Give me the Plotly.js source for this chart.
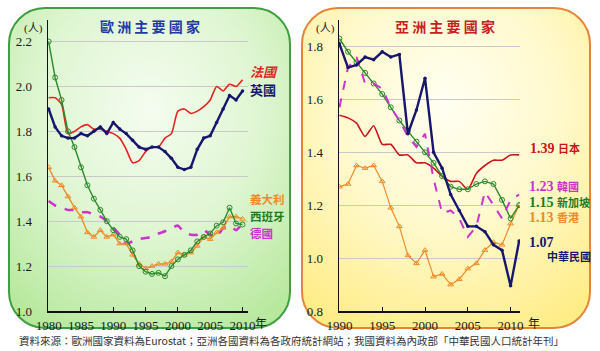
<!DOCTYPE html>
<html>
<head>
<meta charset="utf-8">
<script src="https://cdn.plot.ly/plotly-3.0.1.min.js"></script>
<style>
html,body{margin:0;padding:0;background:#fff;}
#chart{width:600px;height:351px;}
</style>
</head>
<body>
<div id="chart"></div>
<script>
// ---- Europe (1980-2010) ----
var yearsEU = [1980,1981,1982,1983,1984,1985,1986,1987,1988,1989,1990,1991,1992,1993,1994,1995,1996,1997,1998,1999,2000,2001,2002,2003,2004,2005,2006,2007,2008,2009,2010];
var france  = [1.95,1.95,1.92,1.79,1.80,1.82,1.83,1.81,1.81,1.80,1.79,1.77,1.72,1.66,1.67,1.71,1.73,1.73,1.77,1.79,1.89,1.90,1.88,1.89,1.91,1.94,2.00,1.98,2.01,2.00,2.03];
var uk      = [1.90,1.82,1.78,1.77,1.77,1.79,1.78,1.80,1.82,1.79,1.84,1.81,1.79,1.76,1.73,1.72,1.73,1.73,1.71,1.68,1.64,1.63,1.64,1.72,1.77,1.78,1.84,1.90,1.96,1.94,1.98];
var italy   = [1.64,1.58,1.56,1.51,1.46,1.42,1.35,1.33,1.36,1.33,1.34,1.30,1.30,1.25,1.21,1.19,1.20,1.21,1.21,1.22,1.26,1.25,1.26,1.29,1.33,1.32,1.35,1.37,1.42,1.42,1.41];
var spain   = [2.20,2.04,1.94,1.80,1.73,1.64,1.56,1.50,1.45,1.40,1.36,1.33,1.32,1.27,1.20,1.175,1.165,1.17,1.155,1.20,1.23,1.25,1.27,1.31,1.33,1.345,1.38,1.395,1.46,1.39,1.385];
var germany = [1.49,1.47,1.46,1.45,1.45,1.44,1.44,1.43,1.42,1.40,1.37,1.34,1.30,1.31,1.32,1.325,1.33,1.345,1.355,1.37,1.38,1.35,1.34,1.34,1.36,1.34,1.33,1.37,1.38,1.36,1.39];

// ---- Asia (1990-2011) ----
var yearsAS   = [1990,1991,1992,1993,1994,1995,1996,1997,1998,1999,2000,2001,2002,2003,2004,2005,2006,2007,2008,2009,2010,2011];
var japan     = [1.54,1.53,1.51,1.46,1.50,1.43,1.43,1.39,1.39,1.36,1.36,1.34,1.31,1.29,1.29,1.26,1.32,1.35,1.37,1.37,1.39,1.39];
var korea     = [1.57,1.72,1.76,1.66,1.66,1.64,1.57,1.52,1.46,1.42,1.47,1.30,1.17,1.18,1.15,1.08,1.12,1.25,1.20,1.15,1.22,1.24];
var singapore = [1.83,1.78,1.74,1.70,1.66,1.62,1.57,1.52,1.48,1.44,1.40,1.36,1.31,1.27,1.26,1.26,1.28,1.29,1.28,1.22,1.15,1.20];
var hongkong  = [1.27,1.28,1.35,1.34,1.35,1.29,1.19,1.12,1.01,0.98,1.03,0.93,0.94,0.90,0.92,0.96,0.98,1.03,1.06,1.05,1.13,1.20];
var taiwan    = [1.81,1.72,1.73,1.76,1.75,1.78,1.76,1.77,1.47,1.56,1.68,1.40,1.34,1.24,1.18,1.12,1.12,1.10,1.05,1.03,0.895,1.065];

var ticksEUx = [1980,1985,1990,1995,2000,2005,2010];
var ticksEUy = [1.0,1.2,1.4,1.6,1.8,2.0,2.2];
var ticksASx = [1990,1995,2000,2005,2010];
var ticksASy = [0.8,1.0,1.2,1.4,1.6,1.8];
function fmt(a){return a.map(function(v){return v.toFixed(1);});}

var C = {red:'#e0261e', navy:'#16166e', orange:'#f08a26', green:'#2b8a2b', magenta:'#cc33cc', jred:'#c8161a'};

var traces = [
  {x:yearsEU, y:france, mode:'lines', line:{color:C.red, width:1.6, shape:'spline', smoothing:0.6}, xaxis:'x', yaxis:'y'},
  {x:yearsEU, y:germany, mode:'lines', line:{color:C.magenta, width:2.6, dash:'dash', shape:'spline', smoothing:0.5}, xaxis:'x', yaxis:'y'},
  {x:yearsEU, y:italy, mode:'lines+markers', line:{color:C.orange, width:1.4}, marker:{symbol:'triangle-up-open', size:5, color:C.orange, line:{width:1}}, xaxis:'x', yaxis:'y'},
  {x:yearsEU, y:spain, mode:'lines+markers', line:{color:C.green, width:1.4}, marker:{symbol:'circle-open', size:5, color:C.green, line:{width:1}}, xaxis:'x', yaxis:'y'},
  {x:yearsEU, y:uk, mode:'lines+markers', line:{color:C.navy, width:2.4}, marker:{symbol:'circle', size:3.5, color:C.navy}, xaxis:'x', yaxis:'y'},

  {x:yearsAS, y:japan, mode:'lines', line:{color:C.jred, width:1.6, shape:'spline', smoothing:0.6}, xaxis:'x2', yaxis:'y2'},
  {x:yearsAS, y:hongkong, mode:'lines+markers', line:{color:C.orange, width:1.2}, marker:{symbol:'triangle-up-open', size:5, color:C.orange, line:{width:1}}, xaxis:'x2', yaxis:'y2'},
  {x:yearsAS, y:singapore, mode:'lines+markers', line:{color:C.green, width:1.4}, marker:{symbol:'circle-open', size:5, color:C.green, line:{width:1}}, xaxis:'x2', yaxis:'y2'},
  {x:yearsAS, y:korea, mode:'lines', line:{color:C.magenta, width:2, dash:'dash'}, xaxis:'x2', yaxis:'y2'},
  {x:yearsAS, y:taiwan, mode:'lines+markers', line:{color:C.navy, width:2.4}, marker:{symbol:'circle', size:3.5, color:C.navy}, xaxis:'x2', yaxis:'y2'}
];

var W = 600, H = 351;
function px(x){return x/W;}
function py(y){return 1 - y/H;}

var svg = "<svg xmlns='http://www.w3.org/2000/svg' width='600' height='351' viewBox='0 0 600 351'>" +
 "<defs>" +
 "<radialGradient id='g1' cx='0.5' cy='0.32' r='0.78'><stop offset='0' stop-color='#f5fcf0'/><stop offset='0.5' stop-color='#dff6d2'/><stop offset='1' stop-color='#b6e89c'/></radialGradient>" +
 "<radialGradient id='g2' cx='0.5' cy='0.3' r='0.78'><stop offset='0' stop-color='#fffff2'/><stop offset='0.5' stop-color='#fff9cc'/><stop offset='1' stop-color='#ffed88'/></radialGradient>" +
 "</defs>" +
 "<rect x='9' y='8' width='281' height='320' rx='36' ry='36' fill='url(#g1)' stroke='#3f9e3f' stroke-width='2'/>" +
 "<rect x='302' y='8' width='288' height='320' rx='36' ry='36' fill='url(#g2)' stroke='#e4853a' stroke-width='2'/>" +
 "</svg>";

var tickFont = {family:'Liberation Serif, Times New Roman, serif', size:13, color:'#1a1a1a'};
var cjk = 'Noto Sans CJK TC, Noto Sans CJK SC, sans-serif';
var serifcjk = 'Liberation Serif, Noto Sans CJK TC, serif';

function ann(x, y, text, font, anchor){
  return {xref:'paper', yref:'paper', x:px(x), y:py(y), text:text, showarrow:false,
          xanchor:anchor||'left', yanchor:'middle', font:font};
}

var annotations = [
  ann(150, 26, '<b>歐 洲 主 要 國 家</b>', {family:cjk, size:14, color:'#1f3aa6'}, 'center'),
  ann(445, 26, '<b>亞 洲 主 要 國 家</b>', {family:cjk, size:14, color:'#c8201c'}, 'center'),
  ann(33, 28, '(人)', {family:serifcjk, size:11, color:'#1a1a1a'}, 'center'),
  ann(325, 28, '(人)', {family:serifcjk, size:11, color:'#1a1a1a'}, 'center'),
  ann(253, 322, '年', {family:cjk, size:12, color:'#1a1a1a'}),
  ann(526, 322, '年', {family:cjk, size:12, color:'#1a1a1a'}),

  ann(248, 71, '<b><i>法國</i></b>', {family:cjk, size:13, color:C.red}),
  ann(248, 90, '<b>英國</b>', {family:cjk, size:13, color:C.navy}),
  ann(248, 199, '<b>義大利</b>', {family:cjk, size:11.5, color:C.orange}),
  ann(248, 216, '<b>西班牙</b>', {family:cjk, size:11.5, color:'#1f7a1f'}),
  ann(248, 233, '<b>德國</b>', {family:cjk, size:11.5, color:C.magenta}),

  ann(528, 148, '<b>1.39 <span style="font-size:11px">日本</span></b>', {family:serifcjk, size:14, color:C.jred}),
  ann(527, 187, '<b>1.23 <span style="font-size:11px">韓國</span></b>', {family:serifcjk, size:14, color:C.magenta}),
  ann(527, 202, '<b>1.15 <span style="font-size:11px">新加坡</span></b>', {family:serifcjk, size:14, color:'#1f7a1f'}),
  ann(527, 217, '<b>1.13 <span style="font-size:11px">香港</span></b>', {family:serifcjk, size:14, color:C.orange}),
  ann(527, 242, '<b>1.07</b>', {family:serifcjk, size:14, color:C.navy}),
  ann(545, 256, '<b>中華民國</b>', {family:cjk, size:11, color:C.navy}),

  ann(291, 340, '資料來源：歐洲國家資料為Eurostat；亞洲各國資料為各政府統計網站；我國資料為內政部「中華民國人口統計年刊」', {family:cjk, size:10.5, color:'#333'}, 'center')
];

var axBase = {showline:true, linecolor:'#111', linewidth:1.5, zeroline:false, tickfont:tickFont, fixedrange:true};

var layout = {
  width:W, height:H,
  margin:{l:0, r:0, t:0, b:0},
  paper_bgcolor:'#ffffff',
  plot_bgcolor:'rgba(0,0,0,0)',
  showlegend:false,
  xaxis: Object.assign({}, axBase, {domain:[px(48), px(248)], range:[1979.9, 2010.85], tickmode:'array', tickvals:ticksEUx, showgrid:false, ticks:'inside', ticklen:4, tickcolor:'#111', anchor:'y', ticklabelstandoff:2}),
  yaxis: Object.assign({}, axBase, {domain:[py(311), py(20)], range:[1.0, 2.296], tickmode:'array', tickvals:ticksEUy, ticktext:fmt(ticksEUy), showgrid:true, gridcolor:'#c9c9c9', gridwidth:1, ticks:'', anchor:'x', ticklabelstandoff:12}),
  xaxis2: Object.assign({}, axBase, {domain:[px(339), px(520)], range:[1989.95, 2011.1], tickmode:'array', tickvals:ticksASx, showgrid:false, ticks:'inside', ticklen:4, tickcolor:'#111', anchor:'y2', ticklabelstandoff:2}),
  yaxis2: Object.assign({}, axBase, {domain:[py(311), py(20)], range:[0.8, 1.9], tickmode:'array', tickvals:ticksASy, ticktext:fmt(ticksASy), showgrid:true, gridcolor:'#c9c9c9', gridwidth:1, ticks:'', anchor:'x2', ticklabelstandoff:12}),
  images:[{source:'data:image/svg+xml;charset=utf-8,' + encodeURIComponent(svg), xref:'paper', yref:'paper', x:0, y:1, sizex:1, sizey:1, sizing:'stretch', xanchor:'left', yanchor:'top', layer:'below'}],
  annotations: annotations
};

Plotly.newPlot('chart', traces, layout, {displayModeBar:false, staticPlot:true});
</script>
</body>
</html>
